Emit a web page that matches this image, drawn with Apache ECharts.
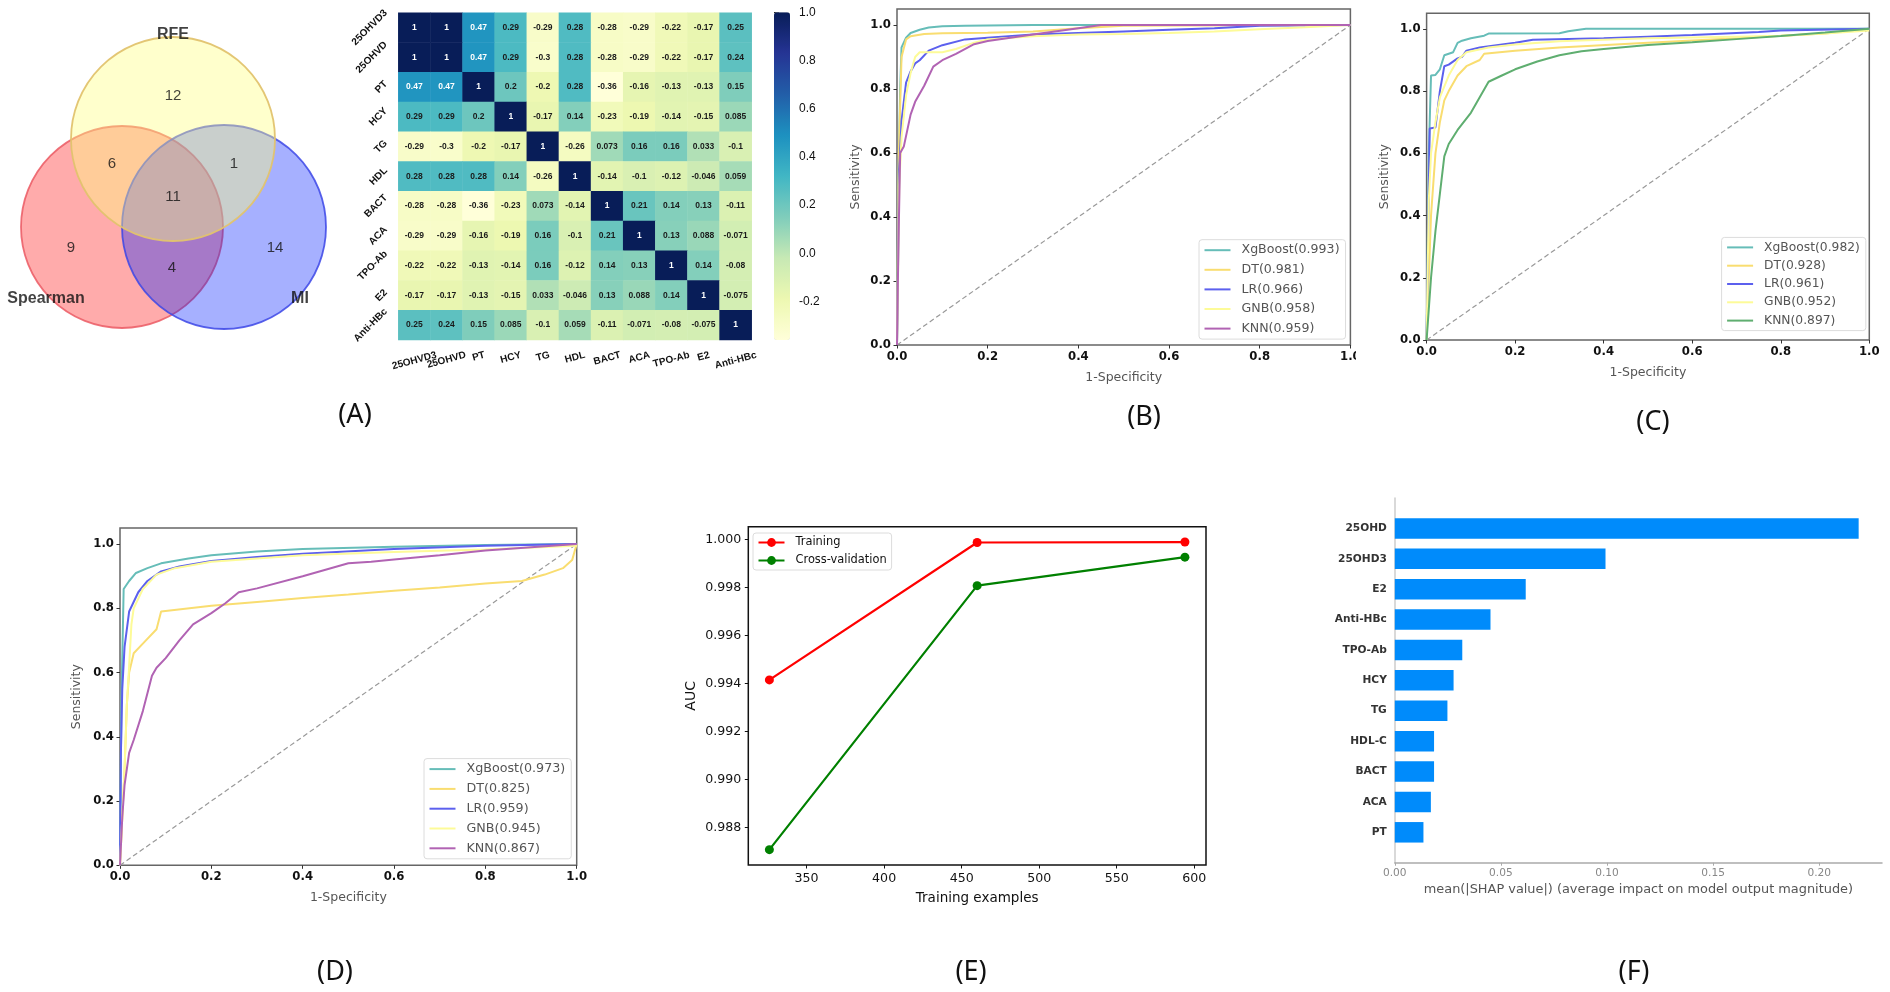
<!DOCTYPE html>
<html>
<head>
<meta charset="utf-8">
<script src="https://cdn.jsdelivr.net/npm/echarts@6/dist/echarts.min.js"></script>
<style>html,body{margin:0;padding:0;background:#fff}#c{width:1890px;height:992px}</style>
</head>
<body>
<div id="c"></div>
<script>
// ---------- Venn (A) ----------
const vennSets = ['RFE', 'Spearman', 'MI'];
const vennCounts = [12, 6, 1, 11, 9, 4, 14];

// ---------- Correlation heatmap (A) ----------
const corrRowLabels = ['25OHVD3','25OHVD','PT','HCY','TG','HDL','BACT','ACA','TPO-Ab','E2','Anti-HBc'];
const corrMatrix = [
  [1,1,0.47,0.29,-0.29,0.28,-0.28,-0.29,-0.22,-0.17,0.25],
  [1,1,0.47,0.29,-0.3,0.28,-0.28,-0.29,-0.22,-0.17,0.24],
  [0.47,0.47,1,0.2,-0.2,0.28,-0.36,-0.16,-0.13,-0.13,0.15],
  [0.29,0.29,0.2,1,-0.17,0.14,-0.23,-0.19,-0.14,-0.15,0.085],
  [-0.29,-0.3,-0.2,-0.17,1,-0.26,0.073,0.16,0.16,0.033,-0.1],
  [0.28,0.28,0.28,0.14,-0.26,1,-0.14,-0.1,-0.12,-0.046,0.059],
  [-0.28,-0.28,-0.36,-0.23,0.073,-0.14,1,0.21,0.14,0.13,-0.11],
  [-0.29,-0.29,-0.16,-0.19,0.16,-0.1,0.21,1,0.13,0.088,-0.071],
  [-0.22,-0.22,-0.13,-0.14,0.16,-0.12,0.14,0.13,1,0.14,-0.08],
  [-0.17,-0.17,-0.13,-0.15,0.033,-0.046,0.13,0.088,0.14,1,-0.075],
  [0.25,0.24,0.15,0.085,-0.1,0.059,-0.11,-0.071,-0.08,-0.075,1]
];
const colorbarTicks = [-0.2, 0, 0.2, 0.4, 0.6, 0.8, 1];

// ---------- ROC panels ----------
const rocTicks = [0, 0.2, 0.4, 0.6, 0.8, 1];
const chance = [[0,0],[1,1]];
const rocNames = ['XgBoost','DT','LR','GNB','KNN'];

const aucB = [0.993,0.981,0.966,0.958,0.959];
const bXgb = [[0,0],[0.003,0.5],[0.007,0.8],[0.01,0.93],[0.02,0.96],[0.03,0.975],[0.05,0.985],[0.07,0.992],[0.1,0.996],[0.15,0.998],[0.3,1],[1,1]];
const bDt  = [[0,0],[0.004,0.6],[0.01,0.9],[0.02,0.955],[0.03,0.965],[0.06,0.972],[0.1,0.974],[0.2,0.976],[0.3,0.98],[0.4,0.99],[0.5,0.998],[1,1]];
const bLr  = [[0,0],[0.005,0.55],[0.01,0.7],[0.02,0.82],[0.03,0.855],[0.04,0.88],[0.05,0.89],[0.07,0.92],[0.1,0.937],[0.15,0.955],[0.2,0.96],[0.3,0.97],[0.4,0.975],[0.5,0.98],[0.6,0.985],[0.7,0.99],[0.8,0.998],[1,1]];
const bGnb = [[0,0],[0.005,0.5],[0.01,0.65],[0.02,0.78],[0.03,0.85],[0.04,0.9],[0.05,0.915],[0.07,0.915],[0.1,0.915],[0.13,0.925],[0.17,0.945],[0.2,0.955],[0.3,0.965],[0.4,0.97],[0.5,0.972],[0.6,0.975],[0.7,0.98],[0.8,0.987],[0.9,0.993],[1,1]];
const bKnn = [[0,0],[0.003,0.3],[0.007,0.6],[0.015,0.62],[0.03,0.72],[0.04,0.76],[0.06,0.81],[0.08,0.87],[0.1,0.89],[0.13,0.91],[0.17,0.94],[0.2,0.95],[0.3,0.97],[0.4,0.99],[0.45,1],[1,1]];

const aucC = [0.982,0.928,0.961,0.952,0.897];
const cXgb = [[0,0],[0.005,0.6],[0.01,0.85],[0.02,0.852],[0.03,0.87],[0.04,0.915],[0.06,0.925],[0.07,0.955],[0.08,0.962],[0.1,0.97],[0.13,0.978],[0.14,0.985],[0.3,0.986],[0.32,0.992],[0.36,1],[1,1]];
const cDt  = [[0,0],[0.005,0.2],[0.01,0.4],[0.02,0.6],[0.03,0.7],[0.04,0.77],[0.05,0.8],[0.07,0.85],[0.09,0.88],[0.12,0.9],[0.13,0.92],[0.2,0.93],[0.3,0.94],[0.5,0.955],[0.7,0.97],[0.9,0.985],[1,1]];
const cLr  = [[0,0],[0.007,0.68],[0.02,0.683],[0.03,0.8],[0.04,0.88],[0.05,0.885],[0.07,0.905],[0.08,0.91],[0.09,0.93],[0.12,0.94],[0.2,0.955],[0.24,0.965],[0.4,0.97],[0.5,0.975],[0.6,0.98],[0.75,0.99],[0.8,0.995],[1,1]];
const cGnb = [[0,0],[0.005,0.45],[0.01,0.6],[0.02,0.7],[0.03,0.78],[0.05,0.85],[0.07,0.9],[0.09,0.925],[0.14,0.94],[0.2,0.95],[0.3,0.96],[0.5,0.97],[0.7,0.975],[0.8,0.978],[0.9,0.985],[1,0.995]];
const cKnn = [[0,0],[0.005,0.1],[0.01,0.2],[0.02,0.35],[0.03,0.47],[0.04,0.59],[0.05,0.63],[0.07,0.675],[0.1,0.73],[0.12,0.78],[0.14,0.83],[0.17,0.85],[0.2,0.87],[0.25,0.895],[0.3,0.915],[0.35,0.928],[0.4,0.935],[0.5,0.948],[0.6,0.957],[0.7,0.967],[0.8,0.977],[0.9,0.988],[1,1]];

const aucD = [0.973,0.825,0.959,0.945,0.867];
const dXgb = [[0,0],[0.003,0.5],[0.008,0.86],[0.02,0.885],[0.035,0.91],[0.06,0.925],[0.09,0.94],[0.15,0.955],[0.2,0.965],[0.3,0.977],[0.4,0.985],[0.6,0.992],[0.8,0.997],[1,1]];
const dDt  = [[0,0],[0.01,0.3],[0.015,0.5],[0.02,0.6],[0.03,0.66],[0.05,0.69],[0.08,0.735],[0.09,0.79],[0.2,0.808],[0.3,0.82],[0.4,0.832],[0.5,0.843],[0.6,0.855],[0.7,0.865],[0.8,0.877],[0.88,0.885],[0.93,0.905],[0.97,0.925],[0.99,0.95],[1,1]];
const dLr  = [[0,0],[0.002,0.35],[0.005,0.55],[0.01,0.68],[0.02,0.79],[0.04,0.85],[0.06,0.885],[0.09,0.915],[0.13,0.93],[0.2,0.947],[0.3,0.96],[0.4,0.97],[0.6,0.985],[0.8,0.995],[1,1]];
const dGnb = [[0,0],[0.005,0.15],[0.01,0.3],[0.015,0.5],[0.02,0.62],[0.025,0.75],[0.03,0.8],[0.05,0.86],[0.08,0.905],[0.12,0.925],[0.2,0.945],[0.3,0.955],[0.4,0.965],[0.6,0.975],[0.8,0.983],[1,0.995]];
const dKnn = [[0,0],[0.005,0.15],[0.01,0.25],[0.02,0.35],[0.03,0.39],[0.05,0.48],[0.07,0.59],[0.08,0.615],[0.1,0.645],[0.13,0.7],[0.16,0.75],[0.2,0.785],[0.23,0.815],[0.26,0.85],[0.3,0.862],[0.4,0.9],[0.5,0.94],[0.55,0.945],[0.6,0.952],[0.7,0.965],[0.8,0.98],[0.9,0.99],[1,1]];

// ---------- Learning curve (E) ----------
const trainSizes = [326, 460, 594];
const trainingAuc = [0.99415, 0.99988, 0.9999];
const crossValAuc = [0.98707, 0.99808, 0.99927];
const learnXTicks = [350, 400, 450, 500, 550, 600];
const learnYTicks = [0.988, 0.990, 0.992, 0.994, 0.996, 0.998, 1.000];

// ---------- SHAP (F) ----------
const shapFeatures = ['25OHD','25OHD3','E2','Anti-HBc','TPO-Ab','HCY','TG','HDL-C','BACT','ACA','PT'];
const shapValues = [0.2186,0.0993,0.0617,0.0451,0.0318,0.0277,0.0248,0.0185,0.0185,0.017,0.0135];
const shapTicks = [0, 0.05, 0.1, 0.15, 0.2];

const panelLabels = ['(A)','(B)','(C)','(D)','(E)','(F)'];

// ---------- styling / layout ----------
const VENN_LAYOUT = {
  circles: [
    {c:[122,227], r:101, fill:'rgba(255,0,0,0.33)', stroke:'rgba(235,90,100,0.85)'},
    {c:[224,227], r:102, fill:'rgba(0,30,255,0.35)', stroke:'rgba(60,70,230,0.85)'},
    {c:[173,139], r:102, fill:'rgba(255,255,127,0.4)', stroke:'rgba(225,195,110,0.95)'}
  ],
  countPos: [[173,96],[112,164],[234,164],[173,197],[71,248],[172,268],[275,248]],
  namePos: [[173,35],[46,299],[300,299]]
};
const COLORS = {xgb:'#66bdb8', dt:'#f9dd70', lr:'#5c60ee', gnb:'#fdfb98', knn:'#b163b3', knnC:'#5fae70'};
const DV = '"DejaVu Sans"', LS = '"Liberation Sans"';
const HEAT = {left:398.3, top:12.7, width:353.4, height:327.3};
const measureCtx = document.createElement('canvas').getContext('2d');
const textW = (t, font) => { measureCtx.font = font; return measureCtx.measureText(t).width; };
const HEAT_AXIS_FONT = 'bold 10px ' + LS;

const grids = [
  {left:0, top:0, width:350, height:350},
  {left:HEAT.left, top:HEAT.top, width:HEAT.width, height:HEAT.height},
  {left:774, top:12.3, width:16, height:327.7},
  {left:897, top:9, width:453.4, height:336},
  {left:1426.6, top:13.3, width:442.7, height:326.7},
  {left:120, top:528, width:456.7, height:337.3},
  {left:748.3, top:526.7, width:457.7, height:338.3},
  {left:1394.8, top:498, width:487.2, height:364.7}
];
const xAxes = [], yAxes = [], series = [], legends = [];

// --- Venn
xAxes.push({gridIndex:0, type:'value', min:0, max:350, show:false});
yAxes.push({gridIndex:0, type:'value', min:0, max:350, inverse:true, show:false});
VENN_LAYOUT.circles.forEach(k => series.push({
  type:'scatter', xAxisIndex:0, yAxisIndex:0, silent:true, symbol:'circle', symbolSize:2*k.r,
  data:[k.c], itemStyle:{color:k.fill, borderColor:k.stroke, borderWidth:1.8, opacity:1}
}));
const textPts = (arr, labels, font) => ({
  type:'scatter', xAxisIndex:0, yAxisIndex:0, silent:true, symbolSize:1, z:5,
  itemStyle:{color:'transparent'},
  data:arr.map((p,i)=>({value:p, lab:String(labels[i])})),
  label:{show:true, position:'inside', formatter:q=>q.data.lab, color:'#111', ...font}
});
series.push(textPts(VENN_LAYOUT.countPos, vennCounts, {fontFamily:LS, fontSize:15}));
series.push(textPts(VENN_LAYOUT.namePos, vennSets, {fontFamily:LS, fontSize:16, fontWeight:'bold'}));

// --- Heatmap
xAxes.push({gridIndex:1, type:'category', data:corrRowLabels, axisLine:{show:false},
  axisTick:{alignWithLabel:true, length:5, lineStyle:{color:'#111', width:1.5}}, axisLabel:{show:false}, splitLine:{show:false}, splitArea:{show:false}});
yAxes.push({gridIndex:1, type:'category', data:corrRowLabels, inverse:true, axisLine:{show:false},
  axisTick:{alignWithLabel:true, length:5, lineStyle:{color:'#111', width:1.5}}, axisLabel:{show:false}, splitLine:{show:false}, splitArea:{show:false}});
const heatData = [];
corrMatrix.forEach((row,i)=>row.forEach((v,j)=>heatData.push({
  value:[j,i,v], label:{color: v>0.4 ? '#fff' : '#1a1a1a'}
})));
const heatSeriesIndex = series.length;
series.push({type:'heatmap', xAxisIndex:1, yAxisIndex:1, data:heatData, silent:true,
  label:{show:true, fontFamily:LS, fontWeight:'bold', fontSize:8.5, formatter:q=>String(q.value[2])},
  itemStyle:{borderWidth:0}, emphasis:{disabled:true}, progressive:0});
series.push({type:'custom', xAxisIndex:1, yAxisIndex:1, silent:true, z:6,
  data:corrRowLabels.map((n,i)=>[0,i]), encode:{x:0,y:1},
  renderItem:(p,api)=>{
    const i=api.value(1), c=api.coord([0,i]), half=api.size([1,0])[0]/2, t=corrRowLabels[i];
    const w=textW(t,HEAT_AXIS_FONT), h=10, s=Math.SQRT1_2;
    return {type:'text', x:c[0]-half-9-(w+h)*s/2, y:c[1], rotation:Math.PI/4,
      style:{text:t, font:HEAT_AXIS_FONT, fill:'#111', align:'center', verticalAlign:'middle'}};
  }});
series.push({type:'custom', xAxisIndex:1, yAxisIndex:1, silent:true, z:6,
  data:corrRowLabels.map((n,j)=>[j,10]), encode:{x:0,y:1},
  renderItem:(p,api)=>{
    const j=api.value(0), c=api.coord([j,10]), half=api.size([0,1])[1]/2, t=corrRowLabels[j];
    const w=textW(t,HEAT_AXIS_FONT), h=10, a=15*Math.PI/180;
    return {type:'text', x:c[0], y:c[1]+half+10+(w*Math.sin(a)+h*Math.cos(a))/2, rotation:a,
      style:{text:t, font:HEAT_AXIS_FONT, fill:'#111', align:'center', verticalAlign:'middle'}};
  }});

// --- Colorbar axis
xAxes.push({gridIndex:2, type:'value', min:0, max:1, show:false});
yAxes.push({gridIndex:2, type:'value', min:-0.36, max:1, position:'right',
  axisLine:{show:false}, splitLine:{show:false},
  axisTick:{show:true, length:5, customValues:colorbarTicks, lineStyle:{color:'#222', width:1}},
  axisLabel:{customValues:colorbarTicks, margin:9, fontFamily:LS, fontSize:12, color:'#111', formatter:v=>v.toFixed(1)}});

// --- ROC panels
function rocPanel(g, names, aucs, curves, palette, box){
  const baseAxis = {gridIndex:g, type:'value', min:0, splitLine:{show:false},
    axisLine:{show:false}, nameLocation:'middle',
    nameTextStyle:{fontFamily:DV, fontSize:12.5, color:'#555'},
    axisTick:{show:true, length:3.5, customValues:rocTicks, lineStyle:{color:'#333', width:1}},
    axisLabel:{customValues:rocTicks, fontFamily:DV, fontSize:11.7, fontWeight:'bold', color:'#111', margin:6, formatter:v=>v.toFixed(1), hideOverlap:false}};
  xAxes.push({...baseAxis, max:1, name:'1-Specificity', nameGap:26});
  yAxes.push({...baseAxis, max:1.05, name:'Sensitivity', nameGap:box.nameGapY});
  const axisIndex = xAxes.length-1;
  Object.assign(grids[g], {show:true, borderColor:'#666', borderWidth:1.5, backgroundColor:'transparent'});
  const labels = names.map((n,i)=>n+'('+aucs[i].toFixed(3)+')');
  curves.forEach((d,i)=>series.push({type:'line', name:labels[i], xAxisIndex:axisIndex, yAxisIndex:axisIndex, data:d,
    showSymbol:false, symbol:'none', silent:true, z:3+i, clip:true,
    lineStyle:{color:palette[i], width:2}, itemStyle:{color:palette[i]}}));
  series.push({type:'line', name:'chance'+g, xAxisIndex:axisIndex, yAxisIndex:axisIndex, data:chance, symbol:'none', silent:true, z:2,
    lineStyle:{color:'#999', width:1.2, type:[5,3]}});
  legends.push({data:labels, orient:'vertical', left:box.left, top:box.top, itemWidth:26, itemHeight:10, itemGap:box.gap,
    selectedMode:false, padding:[4,6,4,4.5], backgroundColor:'rgba(255,255,255,0.85)', borderColor:'#dcdcdc', borderWidth:1, borderRadius:3,
    itemStyle:{opacity:0},
    textStyle:{fontFamily:DV, fontSize:box.font, color:'#555', padding:[0,0,0,6]}, z:20});
}
const palB = [COLORS.xgb,COLORS.dt,COLORS.lr,COLORS.gnb,COLORS.knn];
const palC = [COLORS.xgb,COLORS.dt,COLORS.lr,COLORS.gnb,COLORS.knnC];
rocPanel(3, rocNames, aucB, [bXgb,bDt,bLr,bGnb,bKnn], palB, {left:1199,top:239.7,gap:6.6,font:12.6,nameGapY:35});
rocPanel(4, rocNames, aucC, [cXgb,cDt,cLr,cGnb,cKnn], palC, {left:1721.6,top:237.4,gap:6.3,font:12.3,nameGapY:35});
rocPanel(5, rocNames, aucD, [dXgb,dDt,dLr,dGnb,dKnn], palB, {left:424,top:758.6,gap:6.8,font:12.7,nameGapY:37});

// --- Learning curve
Object.assign(grids[6], {show:true, borderColor:'#111', borderWidth:1.5, backgroundColor:'transparent'});
const learnAxis = {gridIndex:6, type:'value', splitLine:{show:false}, axisLine:{show:false}, nameLocation:'middle'};
xAxes.push({...learnAxis, min:312.4, max:607.6, name:'Training examples', nameGap:26,
  nameTextStyle:{fontFamily:DV, color:'#111', fontSize:13.5},
  axisTick:{show:true, length:3.5, customValues:learnXTicks, lineStyle:{color:'#111'}},
  axisLabel:{customValues:learnXTicks, fontFamily:DV, fontSize:12.6, color:'#111', margin:7}});
yAxes.push({...learnAxis, min:0.98643, max:1.00054, name:'AUC', nameGap:50,
  nameTextStyle:{fontFamily:DV, color:'#111', fontSize:14},
  axisTick:{show:true, length:3.5, customValues:learnYTicks, lineStyle:{color:'#111'}},
  axisLabel:{customValues:learnYTicks, fontFamily:DV, fontSize:12.6, color:'#111', margin:7, formatter:v=>v.toFixed(3)}});
const learnIdx = xAxes.length-1;
[['Training',trainingAuc,'#ff0000'],['Cross-validation',crossValAuc,'#008000']].forEach(([n,vals,col])=>series.push({
  type:'line', name:n, xAxisIndex:learnIdx, yAxisIndex:learnIdx, silent:true, z:3,
  data:trainSizes.map((x,i)=>[x,vals[i]]), symbol:'circle', symbolSize:9, showSymbol:true,
  lineStyle:{color:col, width:2.2}, itemStyle:{color:col}
}));
legends.push({data:['Training','Cross-validation'], orient:'vertical', left:753, top:533, itemWidth:26, itemHeight:11, itemGap:7,
  selectedMode:false, padding:[4,5,4,4.5], backgroundColor:'rgba(255,255,255,0.85)', borderColor:'#dcdcdc', borderWidth:1, borderRadius:3,
  textStyle:{fontFamily:DV, fontSize:11.4, color:'#111', padding:[0,0,0,6]}, z:20});

// --- SHAP bars
xAxes.push({gridIndex:7, type:'value', min:0, max:0.2296, splitLine:{show:false}, nameLocation:'middle',
  name:'mean(|SHAP value|) (average impact on model output magnitude)', nameGap:20,
  nameTextStyle:{fontFamily:DV, fontSize:12.9, color:'#555'},
  axisLine:{show:true, lineStyle:{color:'#aaa', width:1.5}},
  axisTick:{show:true, length:3, customValues:shapTicks, lineStyle:{color:'#aaa'}},
  axisLabel:{customValues:shapTicks, fontFamily:DV, fontSize:10.6, color:'#888', margin:5, formatter:v=>v.toFixed(2)}});
yAxes.push({gridIndex:7, type:'category', inverse:true, boundaryGap:false, data:['',...shapFeatures,''],
  axisLine:{show:true, lineStyle:{color:'#ccc', width:1.5}}, axisTick:{show:false}, splitLine:{show:false},
  axisLabel:{interval:0, fontFamily:DV, fontSize:10.6, fontWeight:'bold', color:'#333', margin:8}});
const shapIdx = xAxes.length-1;
series.push({type:'bar', xAxisIndex:shapIdx, yAxisIndex:shapIdx, silent:true, barWidth:20.5, z:3,
  data:[null,...shapValues,null], itemStyle:{color:'#008bfb'}});

// --- Panel letters
const PANEL_POS = [[355,415],[1144,417],[1653,422],[335,972],[971,972],[1634,972]];
const graphic = panelLabels.map((t,i)=>({type:'text', x:PANEL_POS[i][0], y:PANEL_POS[i][1], z:50,
  style:{text:t, font:'27px "Noto Sans"', fill:'#111', align:'center', verticalAlign:'middle'}}));
// the source image is cropped just right of panel B's last tick label
graphic.push({type:'rect', shape:{x:1356, y:350, width:14, height:24}, z:40, style:{fill:'#fff'}});

const option = {
  animation:false, backgroundColor:'#fff', tooltip:{show:false},
  grid:grids, xAxis:xAxes, yAxis:yAxes, series, legend:legends, graphic,
  visualMap:{type:'continuous', min:-0.36, max:1, seriesIndex:heatSeriesIndex, left:774, top:12.3, padding:0,
    itemWidth:16, itemHeight:327.7, calculable:false, realtime:false, hoverLink:false, text:null, showLabel:false,
    inRange:{color:['#ffffd9','#edf8b1','#c7e9b4','#7fcdbb','#41b6c4','#1d91c0','#225ea8','#253494','#081d58']}}
};
const chart = echarts.init(document.getElementById('c'));
chart.setOption(option);
</script>
</body>
</html>
